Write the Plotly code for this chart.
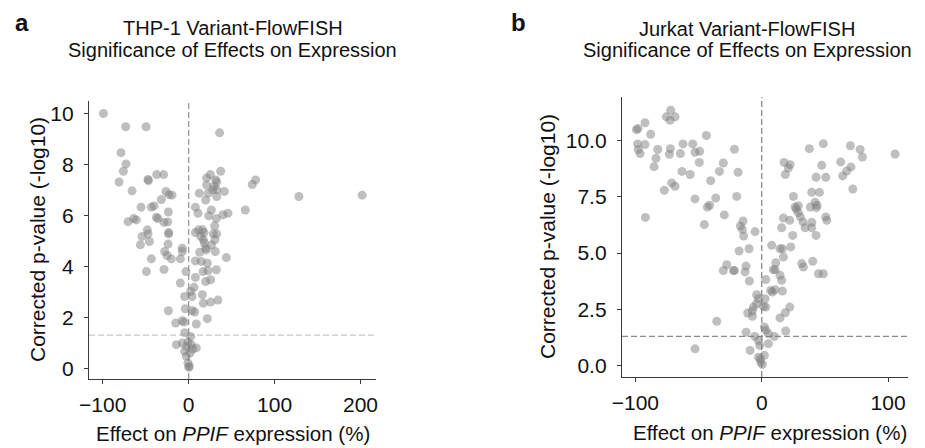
import plotly.graph_objects as go

# ---------------- data ----------------
thp1_effect = [
    -99.2, -73.3, -49.6, -78.7, -72.9, -76.0, -81.0, -47.3, -46.9, -37.2,
    -29.1, -65.9, -26.4, -22.9, -19.4, -31.8, -55.4, -43.4, -40.3, -23.6,
    -64.0, -60.9, -70.5, -37.6, -35.7, -28.7, -24.4, -48.1, -47.3, -54.3,
    -45.7, -56.2, -23.3, -23.3, -24.0, -27.9, -25.2, -43.4, -20.2, -49.2,
    -28.7, -7.4, -7.4, -9.7, -3.1, -9.7, -4.7, -23.6, -3.9, -15.1,
    -7.4, -5.4, -4.7, -14.3, -7.4, -0.8, -4.7, -2.7, -0.8, 0.0,
    -2.3,
    36.0, 37.2, 25.2, 20.9, 31.4, 32.6, 20.9, 29.5, 27.9, 32.6,
    22.9, 12.4, 41.5, 19.8, 32.6, 7.8, 10.9, 26.4, 23.3, 32.2,
    39.9, 45.7, 30.2, 7.8, 11.6, 16.3, 17.8, 14.0, 28.7, 32.6,
    17.1, 30.6, 26.7, 18.2, 19.8, 12.8, 20.5, 31.0, 43.8, 7.8,
    14.7, 21.7, 16.7, 22.5, 32.2, 19.8, 25.6, 7.8, 6.2, 2.3,
    3.9, 15.9, 17.1, 25.6, 34.1, 7.0, 3.9, 8.9, 21.7, 2.3,
    3.1, 8.9, 4.7, 1.6, 0.8,
    65.9, 74.0, 77.9, 128.3, 201.9,
]
thp1_pval = [
    10.01, 9.49, 9.49, 8.47, 8.03, 7.74, 7.32, 7.42, 7.37, 7.61,
    7.61, 6.97, 6.95, 6.82, 6.80, 6.63, 6.33, 6.33, 6.38, 6.14,
    5.88, 5.83, 5.76, 5.93, 5.88, 5.73, 5.75, 5.44, 5.28, 5.18,
    4.98, 4.85, 5.33, 5.28, 4.88, 4.59, 4.43, 4.30, 4.30, 3.80,
    3.88, 4.72, 4.59, 4.30, 3.80, 3.35, 2.82, 2.26, 2.34, 1.78,
    1.87, 1.82, 1.40, 0.93, 0.99, 1.03, 0.67, 0.47, 0.21, 0.04,
    0.86,
    9.25, 7.74, 7.61, 7.48, 7.40, 7.32, 7.20, 7.14, 7.01, 7.01,
    6.88, 6.88, 6.95, 6.61, 6.75, 6.33, 6.09, 6.22, 5.99, 5.88,
    6.03, 6.09, 5.59, 5.33, 5.44, 5.44, 5.33, 5.18, 5.28, 5.28,
    5.05, 5.05, 4.85, 4.92, 4.72, 4.56, 4.65, 4.59, 4.35, 4.22,
    4.20, 4.13, 3.80, 3.83, 3.87, 3.41, 3.48, 3.57, 3.18, 3.02,
    2.82, 2.89, 2.56, 2.60, 2.68, 2.21, 2.27, 1.74, 1.95, 1.25,
    0.93, 0.80, 0.76, 0.60, 0.08,
    6.22, 7.22, 7.40, 6.75, 6.80,
]

jurkat_effect = [
    -99.2, -97.9, -92.4, -87.9, -98.2, -97.7, -96.3, -92.4, -82.3, -83.7,
    -85.2, -75.5, -72.1, -68.6, -72.6, -73.1, -72.3, -64.4, -62.3, -54.6,
    -52.8, -49.1, -49.4, -43.8, -63.1, -56.7, -71.3, -68.6, -77.1, -92.1,
    -40.4, -33.5, -30.4, -21.6, -18.7, -52.8, -36.4, -43.0, -41.2, -45.4,
    -29.6, -19.8, -14.8, -16.9, -15.3, -14.3, -5.3, -17.9, -10.0, -27.7,
    -30.4, -22.4, -21.6, -12.4, -13.2, -9.8, -4.0, -2.6, -4.0, -6.6,
    -7.4, -11.1, -7.4, -35.6, -12.4, -5.5, -2.6, -1.6, -9.2, -52.8,
    -2.6, -1.1, 0.5, -0.8,
    3.2, 7.9, 11.1, 10.6, 9.2, 14.5, 15.8, 8.4, 10.6, 7.1,
    16.4, 2.6, 3.2, 1.3, 22.2, 18.7, 14.5, 19.0, 2.1, 3.2,
    5.3, 10.0, 5.3, 2.1, 14.5, 16.4, 23.0, 17.2, 17.2, 15.8,
    22.2, 24.5, 25.1, 26.4, 29.0, 29.0, 30.6, 32.7, 34.3, 39.6,
    39.6, 31.7, 33.0, 40.4, 44.9, 48.8, 43.0, 50.7, 51.5, 42.2,
    43.8, 43.3, 38.5, 39.6, 45.7, 43.0, 50.7, 47.5, 37.7, 48.8,
    17.7, 22.4, 21.1, 18.7, 62.5, 70.7, 67.3, 64.1, 72.1, 70.2,
    77.9, 79.7, 105.6, 27.4,
]
jurkat_pval = [
    10.47, 10.52, 10.78, 10.27, 9.84, 9.59, 9.41, 9.81, 9.59, 9.20,
    8.83, 11.04, 11.33, 11.04, 10.89, 9.38, 9.63, 9.41, 9.84, 9.84,
    9.47, 9.51, 9.02, 10.21, 8.62, 8.48, 8.11, 7.96, 7.78, 6.58,
    8.21, 8.62, 8.99, 9.60, 8.58, 7.40, 7.44, 7.04, 7.12, 6.26,
    6.69, 7.51, 6.42, 6.20, 6.04, 5.75, 5.95, 5.09, 5.19, 4.48,
    4.22, 4.22, 4.22, 4.42, 4.16, 3.76, 3.15, 2.97, 2.75, 2.60,
    2.43, 2.34, 2.19, 1.97, 1.49, 1.30, 1.12, 0.90, 0.68, 0.75,
    0.38, 0.31, 0.06, 0.16,
    3.82, 5.34, 4.57, 4.26, 4.26, 4.01, 3.79, 3.27, 3.37, 3.34,
    3.31, 2.97, 2.60, 2.63, 2.60, 2.35, 2.12, 1.54, 1.72, 1.57,
    1.42, 1.30, 0.98, 0.46, 5.19, 5.19, 5.27, 4.82, 6.55, 6.12,
    6.45, 5.78, 7.51, 7.04, 7.10, 6.79, 6.60, 6.38, 6.12, 6.36,
    6.12, 4.53, 4.38, 4.63, 4.08, 4.08, 5.78, 6.60, 6.45, 7.25,
    7.12, 7.01, 7.04, 7.69, 7.69, 8.36, 8.36, 8.89, 9.63, 9.85,
    9.02, 8.92, 8.77, 8.48, 9.04, 8.82, 8.64, 8.42, 7.84, 9.76,
    9.59, 9.26, 9.39, 6.95,
]

thp1_xticks = [-100, 0, 100, 200]
thp1_yticks = [0, 2, 4, 6, 8, 10]
jurkat_xticks = [-100, 0, 100]
jurkat_yticks = [0, 2.5, 5, 7.5, 10]
sig_threshold = 1.301  # -log10(0.05)

titles_a = ["THP-1 Variant-FlowFISH", "Significance of Effects on Expression"]
titles_b = ["Jurkat Variant-FlowFISH", "Significance of Effects on Expression"]
xlabel = "Effect on <i>PPIF</i> expression (%)"
ylabel = "Corrected p-value (-log10)"

# ---------------- figure ----------------
W, H = 925, 448
FONT = "Liberation Sans, Arial, Helvetica, sans-serif"
FS = 21
marker = dict(size=9, color="rgba(128,128,128,0.5)", line=dict(width=0))

fig = go.Figure()
fig.add_trace(go.Scatter(x=thp1_effect, y=thp1_pval, mode="markers",
                         marker=marker, xaxis="x", yaxis="y", hoverinfo="x+y"))
fig.add_trace(go.Scatter(x=jurkat_effect, y=jurkat_pval, mode="markers",
                         marker=marker, xaxis="x2", yaxis="y2", hoverinfo="x+y"))

axis_common = dict(showline=True, linecolor="#3a3a3a", linewidth=1.3,
                   ticks="outside", ticklen=4, tickwidth=1.2, tickcolor="#3a3a3a",
                   showgrid=False, zeroline=False, mirror=False, automargin=False,
                   tickfont=dict(size=FS, color="#111", family=FONT))

def px(x):
    return x / W

def py(y):
    return 1 - y / H

fig.update_layout(
    width=W, height=H,
    margin=dict(l=0, r=0, t=0, b=0, pad=0),
    paper_bgcolor="white", plot_bgcolor="white",
    showlegend=False,
    font=dict(family=FONT, color="#111"),
    xaxis=dict(domain=[px(89), px(376)], range=[-116, 218], tickvals=thp1_xticks,
               anchor="y", ticklabelstandoff=3, **axis_common),
    yaxis=dict(domain=[py(379), py(101)], range=[-0.42, 10.5], tickvals=thp1_yticks,
               anchor="x", ticklabelstandoff=6, **axis_common),
    xaxis2=dict(domain=[px(622), px(908)], range=[-110.6, 115.8], tickvals=jurkat_xticks,
                anchor="y2", ticklabelstandoff=3, **axis_common),
    yaxis2=dict(domain=[py(377), py(97)], range=[-0.5, 11.92], tickvals=jurkat_yticks,
                tickformat=".1f", anchor="x2", ticklabelstandoff=6, **axis_common),
)

# reference lines
dash = "6px,3px"
fig.add_shape(type="line", xref="x", yref="y domain", x0=0, x1=0, y0=0, y1=1,
              line=dict(color="#9a9a9a", width=1.3, dash=dash), layer="below")
fig.add_shape(type="line", xref="x domain", yref="y", x0=0, x1=1,
              y0=sig_threshold, y1=sig_threshold,
              line=dict(color="#c8c8c8", width=1.3, dash=dash), layer="below")
fig.add_shape(type="line", xref="x2", yref="y2 domain", x0=0, x1=0, y0=0, y1=1,
              line=dict(color="#8a8a8a", width=1.3, dash=dash), layer="below")
fig.add_shape(type="line", xref="x2 domain", yref="y2", x0=0, x1=1,
              y0=sig_threshold, y1=sig_threshold,
              line=dict(color="#8a8a8a", width=1.3, dash=dash), layer="below")

ann = []
def add_text(text, x, y, size, xanchor="center", textangle=0, bold=False):
    ann.append(dict(text=f"<b>{text}</b>" if bold else text, x=px(x), y=py(y),
                    xref="paper", yref="paper", showarrow=False,
                    xanchor=xanchor, yanchor="middle", textangle=textangle,
                    font=dict(size=size, family=FONT, color="#111")))

add_text("a", 13, 22, 24, xanchor="left", bold=True)
add_text("b", 509, 22, 24, xanchor="left", bold=True)
add_text(titles_a[0], 233, 28, 20)
add_text(titles_a[1], 233, 50, 20)
add_text(titles_b[0], 747, 29, 20)
add_text(titles_b[1], 747, 50, 20)
add_text(xlabel, 233, 433, 20.5)
add_text(xlabel, 770, 432, 20.5)
add_text(ylabel, 37, 240, FS, textangle=-90)
add_text(ylabel, 548, 237, FS, textangle=-90)
fig.update_layout(annotations=ann)

fig.write_html("out.html", config={"displayModeBar": False},
               post_script="document.body.style.margin='0';document.body.style.padding='0';")
